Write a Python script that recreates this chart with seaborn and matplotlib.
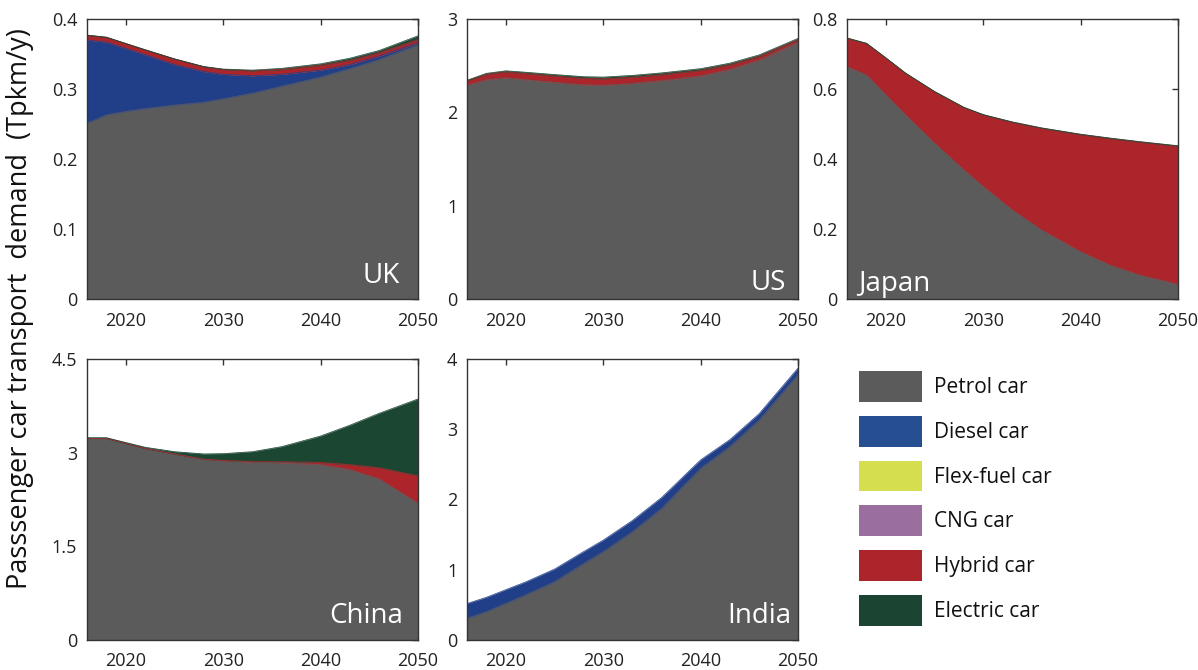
import numpy as np
import pandas as pd
import matplotlib
matplotlib.use("Agg")
import matplotlib.pyplot as plt
from matplotlib.patches import Patch
from matplotlib.ticker import FuncFormatter
import seaborn as sns

# ---- data (Tpkm/y) ----
years = [2016, 2018, 2020, 2022, 2025, 2028, 2030, 2033, 2036, 2040, 2043, 2046, 2050]

vehicle_types = ["Petrol car", "Diesel car", "Flex-fuel car", "CNG car", "Hybrid car", "Electric car"]
vehicle_colors = ["#5b5b5b", "#213f88", "#d4de4f", "#9a6fa0", "#ab252b", "#1a4632"]
legend_colors = ["#5b5b5b", "#254f91", "#d4de4f", "#9a6fa0", "#ab252b", "#1b4532"]

uk_petrol = [0.251, 0.263, 0.268, 0.272, 0.277, 0.281, 0.286, 0.294, 0.304, 0.317, 0.329, 0.342, 0.363]
uk_diesel = [0.119, 0.104, 0.090, 0.077, 0.058, 0.044, 0.035, 0.025, 0.017, 0.010, 0.006, 0.005, 0.003]
uk_hybrid = [0.007, 0.007, 0.007, 0.007, 0.008, 0.007, 0.007, 0.007, 0.007, 0.007, 0.006, 0.005, 0.005]
uk_electric = [0.0, 0.0, 0.0, 0.0, 0.0, 0.0, 0.0005, 0.001, 0.0015, 0.002, 0.003, 0.003, 0.005]

us_petrol = [2.29, 2.35, 2.37, 2.35, 2.32, 2.295, 2.29, 2.31, 2.34, 2.39, 2.46, 2.56, 2.75]
us_hybrid = [0.05, 0.06, 0.065, 0.068, 0.07, 0.07, 0.07, 0.068, 0.065, 0.06, 0.05, 0.04, 0.03]
us_electric = [0.003, 0.008, 0.01, 0.012, 0.015, 0.017, 0.018, 0.018, 0.018, 0.018, 0.017, 0.015, 0.012]

jp_petrol = [0.664, 0.640, 0.583, 0.526, 0.445, 0.369, 0.321, 0.254, 0.197, 0.135, 0.097, 0.069, 0.042]
jp_hybrid = [0.081, 0.090, 0.105, 0.119, 0.147, 0.178, 0.205, 0.251, 0.291, 0.335, 0.362, 0.380, 0.395]
jp_electric = [0.001, 0.001, 0.001, 0.001, 0.001, 0.001, 0.001, 0.001, 0.001, 0.001, 0.001, 0.001, 0.001]

cn_petrol = [3.23, 3.23, 3.15, 3.07, 2.98, 2.895, 2.872, 2.85, 2.84, 2.81, 2.73, 2.58, 2.19]
cn_hybrid = [0.0, 0.0, 0.0, 0.0, 0.0, 0.003, 0.005, 0.008, 0.015, 0.035, 0.08, 0.18, 0.44]
cn_electric = [0.01, 0.01, 0.012, 0.016, 0.036, 0.082, 0.108, 0.158, 0.242, 0.422, 0.63, 0.87, 1.23]

in_petrol = [0.309, 0.403, 0.522, 0.640, 0.830, 1.090, 1.257, 1.542, 1.874, 2.444, 2.752, 3.130, 3.780]
in_diesel = [0.210, 0.205, 0.195, 0.185, 0.180, 0.170, 0.165, 0.160, 0.155, 0.120, 0.100, 0.090, 0.090]

zeros = [0.0] * len(years)

regions = {
    "UK": [uk_petrol, uk_diesel, zeros, zeros, uk_hybrid, uk_electric],
    "US": [us_petrol, zeros, zeros, zeros, us_hybrid, us_electric],
    "Japan": [jp_petrol, zeros, zeros, zeros, jp_hybrid, jp_electric],
    "China": [cn_petrol, zeros, zeros, zeros, cn_hybrid, cn_electric],
    "India": [in_petrol, in_diesel, zeros, zeros, zeros, zeros],
}

y_limits = {"UK": 0.4, "US": 3, "Japan": 0.8, "China": 4.5, "India": 4}
y_ticks = {
    "UK": [0, 0.1, 0.2, 0.3, 0.4],
    "US": [0, 1, 2, 3],
    "Japan": [0, 0.2, 0.4, 0.6, 0.8],
    "China": [0, 1.5, 3, 4.5],
    "India": [0, 1, 2, 3, 4],
}
x_ticks = [2020, 2030, 2040, 2050]

# label placement inside each panel (axes fraction, alignment)
label_pos = {
    "UK": (0.946, 0.057, "right"),
    "US": (0.964, 0.032, "right"),
    "Japan": (0.033, 0.028, "left"),
    "China": (0.955, 0.060, "right"),
    "India": (0.979, 0.060, "right"),
}

# ---- style ----
sns.set_style("white")
plt.rcParams["font.family"] = ["Open Sans", "DejaVu Sans"]

fig = plt.figure(figsize=(11.98, 6.70), dpi=100)

W = 331 / 1198
axes_rect = {
    "UK": (87 / 1198, 1 - 299 / 670, W, 280 / 670),
    "US": (467 / 1198, 1 - 299 / 670, W, 280 / 670),
    "Japan": (847 / 1198, 1 - 299 / 670, W, 280 / 670),
    "China": (87 / 1198, 1 - 640 / 670, W, 281 / 670),
    "India": (467 / 1198, 1 - 640 / 670, W, 281 / 670),
}


def fmt_tick(v, pos):
    return f"{v:g}"


for region, series in regions.items():
    ax = fig.add_axes(axes_rect[region])
    values = np.array(series, dtype=float)
    tops = np.cumsum(values, axis=0)
    bottoms = np.vstack([np.zeros(len(years)), tops[:-1]])
    present = [np.any(values[i] > 0) for i in range(len(vehicle_types))]

    for i, name in enumerate(vehicle_types):
        if not present[i]:
            continue
        ax.fill_between(years, bottoms[i], tops[i], color=vehicle_colors[i],
                        linewidth=0.3, edgecolor=vehicle_colors[i], zorder=2)

    # thin outline on the top edge of each stacked layer
    long = pd.DataFrame({
        "year": np.tile(years, len(vehicle_types)),
        "top": tops.ravel(),
        "type": np.repeat(vehicle_types, len(years)),
    })
    shown = [n for i, n in enumerate(vehicle_types) if present[i]]
    long = long[long["type"].isin(shown)]
    sns.lineplot(data=long, x="year", y="top", hue="type", hue_order=shown,
                 palette=dict(zip(vehicle_types, vehicle_colors)),
                 linewidth=0.5, legend=False, ax=ax, zorder=3)

    ax.set_xlim(2016, 2050)
    ax.set_ylim(0, y_limits[region])
    ax.set_xticks(x_ticks)
    ax.set_yticks(y_ticks[region])
    ax.yaxis.set_major_formatter(FuncFormatter(fmt_tick))
    ax.set_xlabel("")
    ax.set_ylabel("")
    ax.tick_params(axis="both", which="major", direction="in", length=4, width=1,
                   color="#333333", labelsize=13, labelcolor="#222222",
                   top=True, right=True)
    ax.tick_params(axis="x", pad=9)
    ax.tick_params(axis="y", pad=7)
    for sp in ax.spines.values():
        sp.set_visible(True)
        sp.set_color("#333333")
        sp.set_linewidth(1.0)
        sp.set_zorder(5)

    lx, ly, ha = label_pos[region]
    ax.text(lx, ly, region, transform=ax.transAxes, ha=ha, va="baseline",
            color="white", fontsize=20, zorder=6)

fig.text(20 / 1198, 1 - 309 / 670, "Passsenger car transport  demand  (Tpkm/y)",
         rotation=90, ha="center", va="center", fontsize=19.5, color="#111111")

handles = [Patch(facecolor=c, edgecolor="none") for c in legend_colors]
fig.legend(handles, vehicle_types, loc="upper left",
           bbox_to_anchor=(859 / 1198, 1 - 371 / 670),
           frameon=False, fontsize=15, handlelength=3.0, handleheight=1.9,
           labelspacing=0.67, handletextpad=0.6, borderpad=0, borderaxespad=0,
           labelcolor="#111111")

fig.savefig("out.png", dpi=100)
